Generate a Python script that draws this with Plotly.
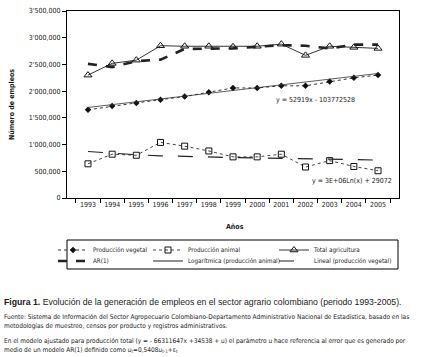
import plotly.graph_objects as go

years = [str(y) for y in range(1993, 2006)]
prod_vegetal = [1650000, 1720000, 1780000, 1840000, 1900000, 1980000, 2060000,
                2060000, 2100000, 2100000, 2180000, 2250000, 2300000]
prod_animal = [640000, 820000, 800000, 1040000, 970000, 880000, 770000,
               770000, 820000, 580000, 700000, 590000, 510000]
total_agri = [2300000, 2520000, 2580000, 2850000, 2840000, 2840000, 2830000,
              2840000, 2880000, 2670000, 2840000, 2820000, 2800000]
ar1 = [2510000, 2450000, 2560000, 2590000, 2790000, 2790000, 2800000,
       2830000, 2860000, 2850000, 2800000, 2870000, 2870000]
log_animal = [870000, 835000, 810000, 790000, 775000, 765000, 757000,
              749000, 742000, 735000, 725000, 718000, 710000]
lin_vegetal_x = ["1993", "2005"]
lin_vegetal = [1695000, 2330000]

y_tickvals = [0, 500000, 1000000, 1500000, 2000000, 2500000, 3000000, 3500000]
y_ticktext = ["0", "500,000", "1'000,000", "1'500,000", "2'000,000",
              "2'500,000", "3'000,000", "3'500,000"]

W, H = 422, 357
L, R, T, B = 67, 399, 11, 198


def px(p):
    return (p - L) / (R - L)


def py(p):
    return (B - p) / (B - T)


FN = "DejaVu Sans Condensed, sans-serif"
FR = "Liberation Sans, Arial, sans-serif"
TXT = "#1a1a1a"

fig = go.Figure()

fig.add_trace(go.Scatter(x=years, y=prod_vegetal, mode="lines+markers",
                         name="Producción vegetal", legend="legend",
                         line=dict(color="#333", width=1, dash="dot"),
                         marker=dict(symbol="diamond", size=5, color="#111")))
fig.add_trace(go.Scatter(x=years, y=prod_animal, mode="lines+markers",
                         name="Producción animal", legend="legend2",
                         line=dict(color="#444", width=1, dash="dot"),
                         marker=dict(symbol="square-open", size=6, color="#111",
                                     line=dict(width=1))))
fig.add_trace(go.Scatter(x=years, y=total_agri, mode="lines+markers",
                         name="Total agricultura", legend="legend3",
                         line=dict(color="#333", width=1),
                         marker=dict(symbol="triangle-up-open", size=7, color="#111",
                                     line=dict(width=1))))
fig.add_trace(go.Scatter(x=years, y=ar1, mode="lines", name="AR(1)", legend="legend4",
                         line=dict(color="#222", width=2.6, dash="dash")))
fig.add_trace(go.Scatter(x=years, y=log_animal, mode="lines",
                         name="Logarítmica (producción animal)", legend="legend5",
                         showlegend=False,
                         line=dict(color="#222", width=1.2, dash="longdash")))
fig.add_trace(go.Scatter(x=[None], y=[None], mode="lines",
                         name="Logarítmica (producción animal)", legend="legend5",
                         line=dict(color="#222", width=1)))
fig.add_trace(go.Scatter(x=lin_vegetal_x, y=lin_vegetal, mode="lines",
                         name="Lineal (producción vegetal)", legend="legend6",
                         showlegend=False,
                         line=dict(color="#333", width=0.8)))
fig.add_trace(go.Scatter(x=[None], y=[None], mode="lines",
                         name="Lineal (producción vegetal)", legend="legend6",
                         line=dict(color="#222", width=1.2, dash="longdash")))

leg_common = dict(orientation="v", bgcolor="rgba(0,0,0,0)", borderwidth=0,
                  font=dict(family=FN, size=6.3, color=TXT), itemwidth=30,
                  tracegroupgap=0, yanchor="middle", xanchor="left")

col_x = [53, 148, 274]
row_y = [250, 261]

fig.update_layout(
    width=W, height=H,
    margin=dict(l=L, r=W - R, t=T, b=H - B, autoexpand=False),
    paper_bgcolor="white", plot_bgcolor="white",
    showlegend=True,
    legend=dict(x=px(col_x[0]), y=py(row_y[0]), **leg_common),
    legend2=dict(x=px(col_x[1]), y=py(row_y[0]), **leg_common),
    legend3=dict(x=px(col_x[2]), y=py(row_y[0]), **leg_common),
    legend4=dict(x=px(col_x[0]), y=py(row_y[1]), **leg_common),
    legend5=dict(x=px(col_x[1]), y=py(row_y[1]), **leg_common),
    legend6=dict(x=px(col_x[2]), y=py(row_y[1]), **leg_common),
    xaxis=dict(type="category", tickson="boundaries", ticks="outside", ticklen=4,
               tickcolor="black", showline=True, linecolor="black", linewidth=1,
               mirror=True, showgrid=False, tickangle=0,
               tickfont=dict(family=FN, size=7, color=TXT)),
    yaxis=dict(range=[0, 3500000], tickvals=y_tickvals, ticktext=y_ticktext,
               ticks="outside", ticklen=4, tickcolor="black", showline=True,
               linecolor="black", linewidth=1, mirror=True, showgrid=False,
               zeroline=False, tickfont=dict(family=FN, size=7, color=TXT)),
)

fig.add_shape(type="rect", xref="paper", yref="paper",
              x0=px(67), x1=px(398), y0=py(240), y1=py(269),
              line=dict(color="black", width=1))

ann = []
ann.append(dict(text="<b>Número de empleos</b>", x=px(12), y=py(105), textangle=-90,
                font=dict(family=FN, size=7, color=TXT)))
ann.append(dict(text="<b>Años</b>", x=px(235), y=py(227),
                font=dict(family=FN, size=7, color=TXT)))
ann.append(dict(text="y = 52919x - 103772528", x=px(315), y=py(100),
                font=dict(family=FN, size=7, color=TXT)))
ann.append(dict(text="y = 3E+06Ln(x) + 29072", x=px(352), y=py(181),
                font=dict(family=FN, size=7, color=TXT)))
ann.append(dict(text="<b>Figura 1.</b> Evolución de la generación de empleos en el sector agrario colombiano (periodo 1993-2005).",
                x=px(2), y=py(302), xanchor="left",
                font=dict(family=FR, size=8.7, color=TXT)))
small = dict(family=FN, size=6.5, color=TXT)
ann.append(dict(text="Fuente: Sistema de Información del Sector Agropecuario Colombiano-Departamento Administrativo Nacional de Estadística, basado en las",
                x=px(2), y=py(317), xanchor="left", font=small))
ann.append(dict(text="metodologías de muestreo, censos por producto y registros administrativos.",
                x=px(2), y=py(326), xanchor="left", font=small))
ann.append(dict(text="En el modelo ajustado para producción total (y = - 66311647x +34538 + u) el parámetro u hace referencia al error que es generado por",
                x=px(2), y=py(341), xanchor="left", font=small))
ann.append(dict(text="medio de un modelo AR(1) definido como <i>u</i><sub>t</sub>=0,5408<i>u</i><sub>t-1</sub>+ε<sub>t</sub>",
                x=px(2), y=py(350), xanchor="left", font=small))
for a in ann:
    a.setdefault("xanchor", "center")
    fig.add_annotation(xref="paper", yref="paper", showarrow=False,
                       yanchor="middle", **a)

fig.write_html("out.html", config={"displayModeBar": False},
               post_script="document.body.style.margin='0';document.body.style.overflow='hidden';")
